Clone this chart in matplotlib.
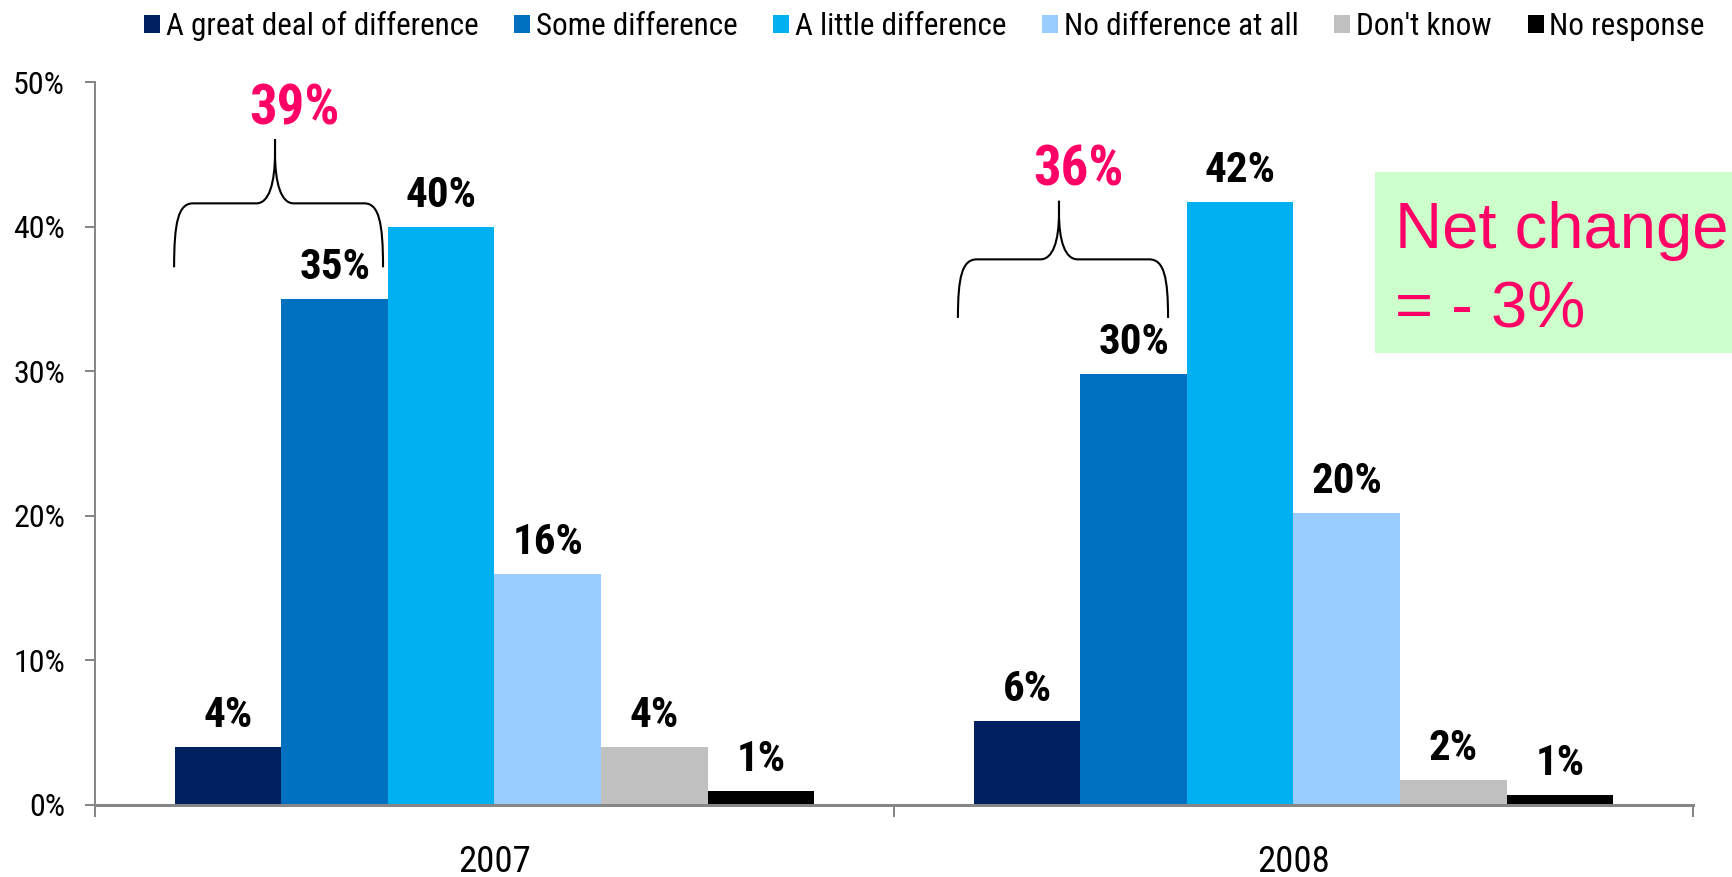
import matplotlib
matplotlib.use("Agg")
import matplotlib.pyplot as plt
import numpy as np
from matplotlib import font_manager as fm
from matplotlib.path import Path
from matplotlib.patches import PathPatch, Rectangle

# ---- data -------------------------------------------------------------
years = ["2007", "2008"]
responses = ["A great deal of difference", "Some difference", "A little difference",
             "No difference at all", "Don't know", "No response"]
values_2007 = [4, 35, 40, 16, 4, 1]
values_2008 = [5.8, 29.8, 41.7, 20.2, 1.7, 0.7]
y_ticks = [0, 10, 20, 30, 40, 50]

# ---- fonts: prefer a narrow sans face, fall back to scaled Liberation Sans
_installed = {f.name for f in fm.fontManager.ttflist}
_condensed = {f.name for f in fm.fontManager.ttflist
              if f.stretch in ("condensed", "semi-condensed", "extra-condensed")}
NARROW_STRETCH = "normal"
if "Liberation Sans Narrow" in _installed:
    NARROW_FAMILY, SCALE = "Liberation Sans Narrow", 1.0
elif "Arial Narrow" in _installed:
    NARROW_FAMILY, SCALE = "Arial Narrow", 1.0
elif "Roboto Condensed" in _installed:
    NARROW_FAMILY, SCALE = "Roboto Condensed", 1.0
elif "DejaVu Sans" in _condensed:
    NARROW_FAMILY, SCALE, NARROW_STRETCH = "DejaVu Sans", 0.88, "condensed"
else:
    NARROW_FAMILY, SCALE = "Liberation Sans", 0.86
NARROW = [NARROW_FAMILY, "Liberation Sans", "DejaVu Sans"]
plt.rcParams["font.family"] = NARROW
plt.rcParams["font.stretch"] = NARROW_STRETCH

# ---- style ------------------------------------------------------------
colors = ["#002060", "#0070C0", "#00B0F0", "#99CCFF", "#C0C0C0", "#000000"]
PINK = "#FF0066"
AXIS_GRAY = "#868686"

W_PX, H_PX = 1733, 877
fig = plt.figure(figsize=(W_PX / 100, H_PX / 100), dpi=100)
ax = fig.add_axes([95 / W_PX, 72 / H_PX, 1598 / W_PX, 722.7 / H_PX])

series = np.array([values_2007, values_2008]).T  # one row per response
x = np.arange(len(years))
n = len(responses)
bar_w = 0.8 / n

handles = []
for i, (name, vals, col) in enumerate(zip(responses, series, colors)):
    xpos = x + (i - (n - 1) / 2) * bar_w
    bc = ax.bar(xpos, vals, width=bar_w, color=col, edgecolor="none", label=name, zorder=1)
    handles.append(bc)
    for xp, v in zip(xpos, vals):
        ax.annotate(f"{v:.0f}%", (xp, v), xytext=(0, 14.4), textcoords="offset points",
                    ha="center", va="baseline", fontsize=31 * SCALE,
                    fontweight="bold", color="black")

ax.set_xlim(-0.5, 1.5)
ax.set_ylim(0, 50)

# axes styling
for side in ("top", "right"):
    ax.spines[side].set_visible(False)
ax.spines["left"].set_color(AXIS_GRAY)
ax.spines["left"].set_linewidth(1.44)
ax.spines["bottom"].set_color(AXIS_GRAY)
ax.spines["bottom"].set_linewidth(2.16)

ax.set_yticks(y_ticks)
ax.set_yticklabels([f"{t}%" for t in y_ticks])
ax.tick_params(axis="y", length=7.2, width=1.44, color=AXIS_GRAY, pad=14.4,
               labelsize=23 * SCALE)

ax.set_xticks([-0.5, 0.5, 1.5])
ax.set_xticklabels([])
ax.set_xticks(x, minor=True)
ax.set_xticklabels(years, minor=True)
ax.tick_params(axis="x", which="major", length=8.64, width=1.44, color=AXIS_GRAY)
ax.tick_params(axis="x", which="minor", length=0, pad=28, labelsize=26.5 * SCALE)


# ---- curly braces over the top two response groups ---------------------
def draw_brace(ax, left, right, bottom, top, peak):
    w = right - left
    h = top - bottom
    yh = bottom + 0.5 * h
    verts = [
        (left, bottom),
        (left, yh - 0.15 * h), (left + 0.02 * w, yh), (left + 0.09 * w, yh),
        (peak - 0.089 * w, yh),
        (peak - 0.03 * w, yh), (peak, yh + 0.15 * h), (peak, yh + 0.4 * h),
        (peak, top),
        (peak, yh + 0.4 * h),
        (peak, yh + 0.15 * h), (peak + 0.03 * w, yh), (peak + 0.089 * w, yh),
        (right - 0.09 * w, yh),
        (right - 0.02 * w, yh), (right, yh - 0.15 * h), (right, bottom),
    ]
    codes = [Path.MOVETO,
             Path.CURVE4, Path.CURVE4, Path.CURVE4,
             Path.LINETO,
             Path.CURVE4, Path.CURVE4, Path.CURVE4,
             Path.LINETO,
             Path.LINETO,
             Path.CURVE4, Path.CURVE4, Path.CURVE4,
             Path.LINETO,
             Path.CURVE4, Path.CURVE4, Path.CURVE4]
    ax.add_patch(PathPatch(Path(verts, codes), facecolor="none", edgecolor="black",
                           lw=1.5, clip_on=False, zorder=3))


brace_geom = [
    # left, right, bottom, top, peak (data units)
    (-0.401, -0.1395, 37.2, 46.05, -0.2747),
    (0.580, 0.843, 33.7, 41.8, 0.7065),
]
for col_vals, (l, r, b, t, p) in zip(series.T, brace_geom):
    total = col_vals[0] + col_vals[1]
    draw_brace(ax, l, r, b, t, p)
    ax.annotate(f"{total:.0f}%", (p, t), xytext=(13.7, 11), textcoords="offset points",
                ha="center", va="baseline", fontsize=39.5 * SCALE,
                fontweight="bold", color=PINK, annotation_clip=False)

# ---- net change call-out ----------------------------------------------
net = round(sum(values_2008[:2])) - round(sum(values_2007[:2]))
REGULAR = ["Liberation Sans", "DejaVu Sans"]
fig.patches.append(Rectangle((1375 / W_PX, (H_PX - 353) / H_PX), (W_PX - 1375) / W_PX, 181 / H_PX,
                             transform=fig.transFigure, facecolor="#CCFFCC",
                             edgecolor="none", zorder=0))
fig.text(1395 / W_PX, (H_PX - 248) / H_PX, "Net change", fontsize=47, color=PINK,
         family=REGULAR, fontstretch="normal", ha="left", va="baseline")
fig.text(1395 / W_PX, (H_PX - 327) / H_PX, f"= {'-' if net < 0 else '+'} {abs(net)}%",
         fontsize=47, color=PINK, family=REGULAR, fontstretch="normal",
         ha="left", va="baseline")

# ---- legend -----------------------------------------------------------
leg_pt = 22.4 * SCALE
leg_px = leg_pt * 100 / 72
fig.legend(handles, responses, loc="center left", bbox_to_anchor=(144 / W_PX, 1 - 26 / H_PX),
           ncol=n, frameon=False,
           prop={"family": NARROW, "size": leg_pt, "stretch": NARROW_STRETCH},
           handlelength=16 / leg_px, handleheight=16 / leg_px, handletextpad=5.5 / leg_px,
           columnspacing=36 / leg_px, borderpad=0, borderaxespad=0)

fig.savefig("out.png", dpi=100)
